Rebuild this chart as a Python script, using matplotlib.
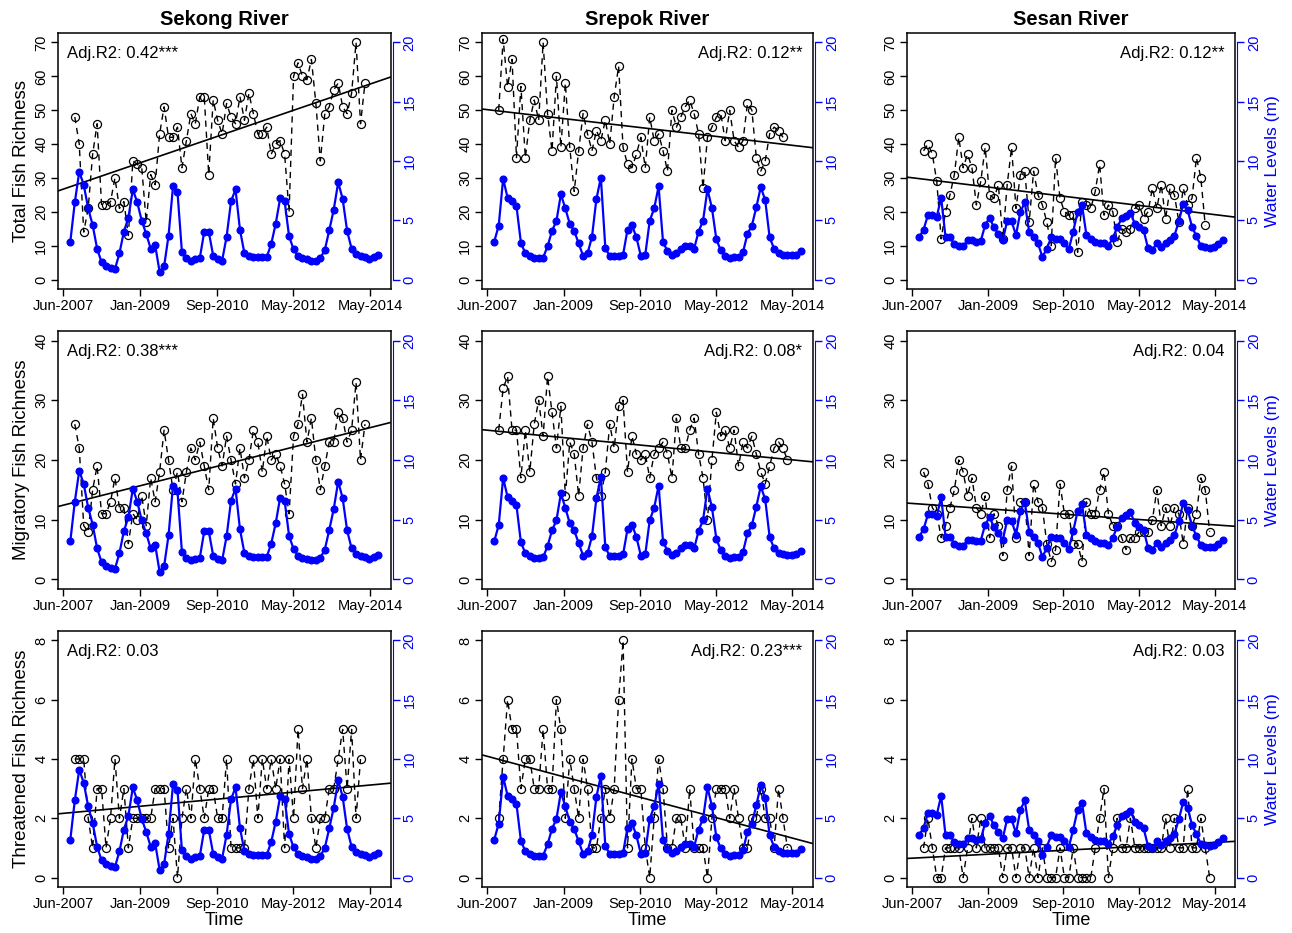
import numpy as np
import matplotlib
matplotlib.use("Agg")
import matplotlib.pyplot as plt

plt.rcParams["font.family"] = ["Liberation Sans", "DejaVu Sans"]

# ---- data -------------------------------------------------------------
rivers = ["Sekong River", "Srepok River", "Sesan River"]
row_names = ["Total Fish Richness", "Migratory Fish Richness",
             "Threatened Fish Richness"]
row_ymax = [70, 40, 8]
row_ystep = [10, 10, 2]
date_labels = ["Jun-2007", "Jan-2009", "Sep-2010", "May-2012", "May-2014"]

# water levels (m), one value per sampling slot
sekong_wl = [3.2, 6.5, 9.1, 8.0, 6.0, 4.6, 2.6, 1.45, 1.1, 0.95,
             0.9, 2.2, 4.05, 5.2, 7.6, 6.5, 4.95, 3.85, 2.6, 2.9,
             0.65, 1.1, 3.7, 7.85, 7.4, 2.3, 1.8, 1.6, 1.7, 1.8,
             4.05, 4.05, 2.0, 1.7, 1.6, 3.6, 6.6, 7.6, 4.2, 2.2,
             1.95, 1.9, 1.9, 1.9, 1.9, 3.0, 4.7, 6.85, 6.6, 3.65,
             2.55, 2.0, 1.8, 1.7, 1.6, 1.6, 1.8, 2.5, 4.15, 5.9,
             8.2, 6.8, 4.1, 2.6, 2.15, 2.0, 1.9, 1.75, 1.9, 2.05]
srepok_wl = [3.2, 4.55, 8.5, 6.9, 6.6, 6.2, 3.1, 2.2, 2.0, 1.8,
             1.8, 1.85, 2.8, 4.1, 4.95, 7.2, 6.0, 4.7, 4.1, 3.05,
             2.0, 2.2, 3.6, 6.8, 8.6, 2.7, 1.95, 1.95, 1.95, 2.1,
             4.2, 4.6, 3.55, 2.0, 2.1, 4.95, 6.0, 7.85, 3.15, 2.4,
             2.05, 2.2, 2.6, 2.85, 2.85, 2.6, 4.05, 4.95, 7.6, 6.05,
             3.4, 2.45, 1.95, 1.8, 1.9, 1.9, 2.3, 3.85, 4.55, 6.1,
             7.8, 6.7, 3.55, 2.6, 2.2, 2.1, 2.05, 2.05, 2.1, 2.4]
sesan_wl = [3.57, 4.2, 5.45, 5.45, 5.3, 6.9, 3.55, 3.55, 3.0, 2.8,
            2.8, 3.3, 3.3, 3.2, 3.25, 4.6, 5.2, 4.4, 3.85, 3.3,
            4.95, 4.9, 3.75, 5.7, 6.5, 4.0, 3.55, 3.05, 1.9, 2.6,
            3.55, 3.45, 3.45, 3.05, 2.55, 4.05, 5.7, 6.3, 3.75, 3.45,
            3.2, 3.05, 3.05, 2.85, 3.5, 4.4, 5.15, 5.4, 5.65, 4.7,
            4.4, 4.15, 2.65, 2.5, 3.05, 2.75, 3.05, 3.3, 3.7, 4.9,
            6.4, 5.85, 4.45, 3.65, 2.85, 2.75, 2.7, 2.75, 3.0, 3.3]

# fish richness, starting at sampling slot 1
sekong_total = [48, 40, 14, 21, 37, 46, 22, 22, 23, 30, 21, 23, 13, 35, 34,
                33, 17, 31, 28, 43, 51, 42, 42, 45, 33, 41, 49, 46, 54, 54,
                31, 53, 47, 43, 52, 48, 46, 54, 47, 55, 49, 43, 43, 45, 37,
                40, 41, 37, 20, 60, 64, 60, 59, 65, 52, 35, 49, 51, 56, 58,
                51, 49, 55, 70, 46, 58]
sekong_migr = [26, 22, 9, 8, 15, 19, 11, 11, 13, 17, 12, 12, 6, 11, 10, 14,
               9, 17, 13, 18, 25, 20, 15, 18, 13, 18, 22, 20, 23, 19, 15, 27,
               22, 19, 24, 20, 16, 22, 17, 20, 25, 23, 18, 24, 20, 21, 19, 16,
               11, 24, 26, 31, 23, 27, 20, 15, 19, 23, 23, 28, 27, 23, 25, 33,
               20, 26]
sekong_thr = [4, 4, 4, 2, 1, 3, 3, 1, 2, 4, 2, 3, 1, 2, 2, 2, 2, 2, 3, 3,
              3, 1, 2, 0, 2, 3, 2, 4, 3, 2, 3, 3, 2, 2, 4, 1, 1, 1, 1, 3,
              4, 2, 4, 3, 4, 3, 4, 1, 4, 2, 5, 3, 4, 2, 1, 2, 2, 3, 3, 4,
              5, 3, 5, 2, 4]
srepok_total = [50, 71, 57, 65, 36, 57, 36, 47, 53, 47, 70, 49, 38, 60, 39,
                58, 39, 26, 38, 49, 43, 38, 44, 41, 47, 40, 54, 63, 39, 34,
                33, 37, 42, 33, 48, 41, 43, 38, 32, 50, 45, 48, 51, 53, 49,
                43, 27, 42, 45, 48, 49, 41, 50, 41, 39, 41, 52, 50, 36, 32,
                35, 43, 45, 44, 42]
srepok_migr = [25, 32, 34, 25, 25, 17, 25, 18, 26, 30, 24, 34, 28, 22, 29,
               14, 23, 21, 14, 22, 26, 23, 17, 14, 18, 26, 22, 29, 30, 18,
               24, 21, 20, 21, 17, 21, 22, 23, 21, 17, 27, 22, 22, 25, 27,
               21, 17, 10, 20, 28, 24, 25, 22, 25, 19, 23, 22, 24, 21, 18,
               16, 19, 22, 23, 22, 20]
srepok_thr = [2, 4, 6, 5, 5, 3, 4, 4, 3, 3, 5, 3, 3, 6, 5, 2, 4, 3, 2, 4,
              3, 1, 1, 2, 3, 2, 3, 6, 8, 1, 4, 3, 3, 1, 0, 2, 4, 3, 1, 1,
              2, 2, 1, 3, 1, 1, 1, 0, 2, 3, 3, 3, 2, 3, 2, 1, 1, 2, 2, 3,
              2, 2, 1, 3, 2, 1]
sesan_total = [38, 40, 37, 29, 12, 20, 25, 31, 42, 33, 37, 33, 22, 29, 39,
               25, 24, 28, 12, 28, 39, 21, 31, 32, 17, 32, 25, 22, 17, 10,
               36, 24, 20, 19, 19, 8, 23, 22, 21, 26, 34, 19, 22, 20, 11,
               15, 14, 15, 21, 22, 18, 20, 27, 21, 28, 18, 27, 25, 17, 27,
               22, 24, 36, 30, 16]
sesan_migr = [18, 16, 12, 11, 7, 9, 12, 15, 20, 18, 14, 17, 12, 11, 14, 7,
              11, 9, 4, 15, 19, 7, 13, 13, 4, 16, 13, 12, 6, 3, 5, 16, 11,
              11, 6, 6, 3, 13, 11, 11, 15, 18, 11, 9, 9, 7, 5, 7, 7, 8, 8,
              8, 10, 15, 9, 12, 9, 12, 11, 6, 12, 9, 11, 17, 15, 8]
sesan_thr = [1, 2, 1, 0, 0, 1, 1, 1, 1, 0, 1, 2, 1, 2, 1, 1, 1, 1, 0, 1,
             1, 0, 1, 1, 0, 1, 0, 1, 0, 0, 0, 1, 0, 0, 1, 0, 0, 0, 0, 1,
             2, 3, 0, 1, 2, 1, 1, 2, 1, 1, 1, 1, 1, 1, 1, 2, 1, 2, 1, 1,
             3, 1, 1, 2, 1, 0]

water = [sekong_wl, srepok_wl, sesan_wl]
richness = [[sekong_total, sekong_migr, sekong_thr],
            [srepok_total, srepok_migr, srepok_thr],
            [sesan_total, sesan_migr, sesan_thr]]
adj_r2 = [["0.42***", "0.38***", "0.03"],
          ["0.12**", "0.08*", "0.23***"],
          ["0.12**", "0.04", "0.03"]]

# ---- layout (pixel frame boxes of the reference) ----------------------
W, H = 1292, 933
col_x = [(58, 332.7), (482, 331), (907, 328)]
row_y = [(33, 289), (331, 589), (631, 887)]
BLUE = "#0000ff"

fig = plt.figure(figsize=(W / 100, H / 100), dpi=100)

n_slots = len(sekong_wl)
span = n_slots - 1
xlim = (-0.04 * span, span * 1.04)
tick_pos = np.linspace(xlim[0] + 0.016 * (xlim[1] - xlim[0]),
                       xlim[0] + 0.938 * (xlim[1] - xlim[0]), 5)

for c in range(3):
    for r in range(3):
        x0, w = col_x[c]
        top, bot = row_y[r]
        ax = fig.add_axes([x0 / W, 1 - bot / H, w / W, (bot - top) / H])
        ymax = row_ymax[r]
        ax.set_xlim(*xlim)
        ax.set_ylim(-0.04 * ymax, 1.04 * ymax)

        y = np.array(richness[c][r], dtype=float)
        xs = 1 + np.arange(len(y))
        ax.plot(xs, y, color="black", lw=1.0, ls=(0, (4.5, 3.5)),
                marker="o", ms=5.8, mfc="none", mec="black", mew=0.9)
        # least-squares trend of richness over time
        slope, icpt = np.polyfit(xs, y, 1)
        ax.axline((0, icpt), slope=slope, color="black", lw=1.2)

        ax.set_yticks(np.arange(0, ymax + 1, row_ystep[r]))
        ax.set_xticks(tick_pos, date_labels)
        ax.tick_params(direction="out", length=5, width=1, labelsize=10.5,
                       pad=2)
        for lab in ax.get_yticklabels():
            lab.set_rotation(90)
            lab.set_va("center")
        for s in ax.spines.values():
            s.set_linewidth(1.1)

        ax2 = ax.twinx()
        ax2.set_ylim(-0.8, 20.8)
        ax2.plot(np.arange(n_slots), water[c], color=BLUE, lw=1.6,
                 marker="o", ms=4.8, mec=BLUE, mfc=BLUE)
        for side in ["left", "top", "bottom"]:
            ax2.spines[side].set_visible(False)
        ax2.spines["right"].set_color(BLUE)
        ax2.spines["right"].set_bounds(0, 20)
        ax2.spines["right"].set_position(("outward", 1.5))
        ax2.set_yticks(np.arange(0, 21, 5))
        ax2.tick_params(axis="y", direction="out", length=5, width=1,
                        colors=BLUE, labelsize=10.5, pad=2)
        for lab in ax2.get_yticklabels():
            lab.set_rotation(90)
            lab.set_va("center")

        txt = "Adj.R2: " + adj_r2[c][r]
        if c == 0:
            ax.text(0.026, 0.92, txt, transform=ax.transAxes, ha="left",
                    va="center", fontsize=12)
        else:
            ax.text(0.968, 0.92, txt, transform=ax.transAxes, ha="right",
                    va="center", fontsize=12)

        if c == 0:
            ax.set_ylabel(row_names[r], fontsize=13.5, labelpad=3)
        if c == 2:
            ax2.set_ylabel("Water Levels (m)", fontsize=12.5, color=BLUE,
                           labelpad=3)
        if r == 2:
            ax.set_xlabel("Time", fontsize=13, labelpad=1)
        if r == 0:
            ax.set_title(rivers[c], fontsize=14.5, fontweight="bold", pad=6)

fig.savefig("out.png", dpi=100)
